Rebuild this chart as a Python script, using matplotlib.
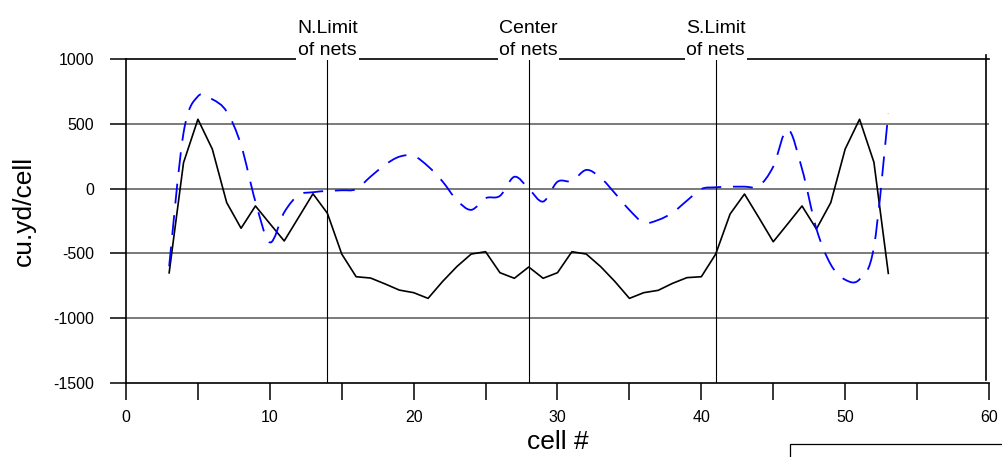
import matplotlib
matplotlib.use("Agg")
import matplotlib.pyplot as plt
import numpy as np
from matplotlib.path import Path
from matplotlib.patches import PathPatch, Rectangle
from matplotlib.ticker import MultipleLocator

plt.rcParams['font.family'] = ['Liberation Sans', 'DejaVu Sans']
plt.rcParams['axes.unicode_minus'] = False

# Cell numbers along the profile
cells = list(range(3, 54))

# Volume change per cell (solid black series)
volume_solid = [
    -650, 200, 535, 305, -108, -306, -134, -270, -404, -222,
    -40, -190, -505, -680, -690, -735, -783, -803, -847, -718,
    -602, -505, -487, -649, -692, -605, -692, -649, -487, -505,
    -602, -718, -847, -803, -785, -731, -687, -680, -505, -196,
    -42, -224, -410, -273, -134, -312, -108, 305, 535, 203,
    -654,
]

# Volume change per cell (dashed blue series)
volume_dashed = [
    -600, 430, 712, 689, 594, 336, -101, -415, -183, -50,
    -28, -18, -13, -4, 92, 183, 246, 252, 172, 56,
    -89, -164, -74, -56, 91, 0, -100, 53, 58, 144,
    84, -37, -165, -263, -242, -186, -93, -3, 10, 15,
    15, 20, 170, 458, 152, -310, -586, -703, -700, -450,
    582,
]

x_ticks_major = [0, 10, 20, 30, 40, 50, 60]
y_ticks = [-1500, -1000, -500, 0, 500, 1000]
net_cells = [14, 28, 41]
net_labels = ["N.Limit\nof nets", "Center\nof nets", "S.Limit\nof nets"]


def smooth_path(xs, ys):
    """Cubic Bezier path through every point (smoothed polyline)."""
    pts = np.column_stack([xs, ys]).astype(float)
    n = len(pts)
    verts = [pts[0]]
    codes = [Path.MOVETO]
    for i in range(n - 1):
        p0 = pts[i - 1] if i > 0 else pts[i]
        p1 = pts[i]
        p2 = pts[i + 1]
        p3 = pts[i + 2] if i + 2 < n else pts[i + 1]
        c1 = p1 + (p2 - p0) / 6.0
        c2 = p2 - (p3 - p1) / 6.0
        verts += [c1, c2, p2]
        codes += [Path.CURVE4] * 3
    return Path(verts, codes)


fig = plt.figure(figsize=(10.03, 4.57), dpi=100)
ax = fig.add_axes([126 / 1003, 1 - 383 / 457, (989 - 126) / 1003, (383 - 59) / 457])

ax.set_xlim(0, 60)
ax.set_ylim(-1500, 1000)

# horizontal grid
for yv in y_ticks[1:-1]:
    ax.axhline(yv, color="#7a7a7a", lw=1.4, zorder=1)

# net position markers
for c in net_cells:
    ax.axvline(c, color="black", lw=0.8, zorder=1.5)

ax.plot(cells, volume_solid, color="black", lw=1.2, zorder=3)
ax.add_patch(PathPatch(smooth_path(cells, volume_dashed), fill=False,
                       edgecolor="#0000ff", lw=1.3,
                       linestyle=(0, (11.0, 6.5)), zorder=3))

# frame
for side in ("left", "bottom", "top"):
    ax.spines[side].set_linewidth(1.2)
    ax.spines[side].set_color("black")
ax.spines["right"].set_visible(False)
ax.plot([59.8, 59.8], [-1480, 1030], color="black", lw=1.2, clip_on=False, zorder=2)

ax.set_xticks(x_ticks_major)
ax.xaxis.set_minor_locator(MultipleLocator(5))
ax.set_yticks(y_ticks)
ax.tick_params(axis="x", which="both", direction="out", length=12.2, width=1.1,
               labelsize=11.5, pad=7)
ax.tick_params(axis="y", which="both", direction="out", length=11.5, width=1.1,
               labelsize=11.5, pad=11.5)

for c, lab in zip(net_cells, net_labels):
    ax.text(c, 1000, lab, ha="center", va="bottom", fontsize=14,
            linespacing=1.4, zorder=6, clip_on=False,
            bbox=dict(facecolor="white", edgecolor="none", pad=1.0))

ax.set_xlabel("cell #", fontsize=19)
ax.xaxis.set_label_coords(0.5, -0.145)
ax.xaxis.label.set_va("top")
ax.set_ylabel("cu.yd/cell", fontsize=19)
ax.yaxis.set_label_coords(-0.105, 0.53)

# legend frame at lower right
fig.patches.append(Rectangle((790 / 1003, -0.1), 0.5, 0.1 + (1 - 444 / 457),
                             transform=fig.transFigure, fill=False,
                             edgecolor="black", lw=0.9))

fig.savefig("out.png", dpi=100, facecolor="white")
